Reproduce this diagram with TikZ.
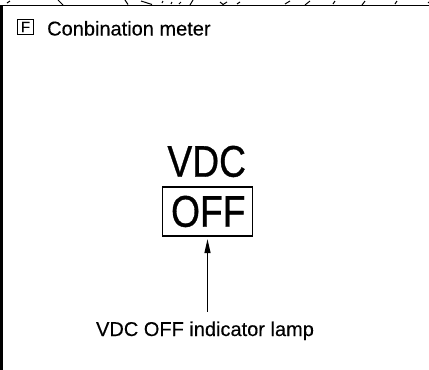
\documentclass[tikz,border=0pt]{standalone}
\usepackage{fontspec}
\usepackage{graphicx}
\setmainfont{Liberation Sans}
\newfontfamily\vdcfont{Liberation Sans}[FakeBold=0.8]
\newfontfamily\lblfont{Liberation Sans}[FakeBold=0.3]
\usetikzlibrary{arrows.meta}
\begin{document}
\begin{tikzpicture}[x=1pt,y=-1pt,
  txt/.style={inner sep=0pt,font=\lblfont\fontsize{20}{24}\selectfont},
  bigtxt/.style={inner sep=0pt,font=\vdcfont\fontsize{44.3}{48}\selectfont},
  fbox/.style={draw,line width=1pt,minimum width=15.5pt,minimum height=15pt,inner sep=0pt,font=\lblfont\fontsize{15}{16}\selectfont},
  lampbox/.style={draw,line width=1.2pt,minimum width=90pt,minimum height=49pt,inner sep=0pt},
  tick/.style={line width=1pt},
  arr/.style={line width=1.2pt,-{Triangle[length=14pt,width=6pt]}}]
\useasboundingbox (0,0) rectangle (429,370);
% frame pieces
\fill (0,5) rectangle (3,370);
\draw[line width=1.5pt] (0,5.3) -- (429,5.3);
\draw[tick] (7,3) -- (10,1);
\draw[tick] (58,0) -- (63,5);
\draw[tick] (125,0) -- (128,4.5);
\draw[tick] (141,1) -- (152,4.5);
\draw[tick] (162,3) -- (163,1);
\draw[tick] (171,4) -- (172,2);
\draw[tick] (179,4) -- (181,2);
\draw[tick] (190,5) -- (193,0);
\draw[tick] (220,2) -- (223,4.5) -- (227,2);
\draw[tick] (237,4) -- (240,2);
\draw[tick] (285,4) -- (290,1);
\draw[tick] (305,5) -- (310,1);
\draw[tick] (333,4) -- (335,1);
\draw[tick] (362,5) -- (365,1);
\draw[tick] (395,4) -- (397,1);
\draw[tick] (428,3) -- (429,2);
% title
\node[fbox] (F) at (25.5,27) {F};
\node[txt,anchor=base west] (title) at (47,35.5) {Conbination meter};
% lamp symbol
\node[bigtxt,anchor=base] (vdc) at (206.7,176.7) {\scalebox{0.84}[1]{VDC}};
\node[lampbox] (offbox) at (207.5,211.5) {};
\node[bigtxt,anchor=base] (off) at (208.3,226.7) {\scalebox{0.84}[1]{OFF}};
% label and arrow
\node[txt,anchor=base] (lamp) at (205,336) {VDC OFF indicator lamp};
\draw[arr] ([yshift=9.5pt]lamp.north -| offbox.south) -- ([yshift=-2.5pt]offbox.south);
\end{tikzpicture}
\end{document}
